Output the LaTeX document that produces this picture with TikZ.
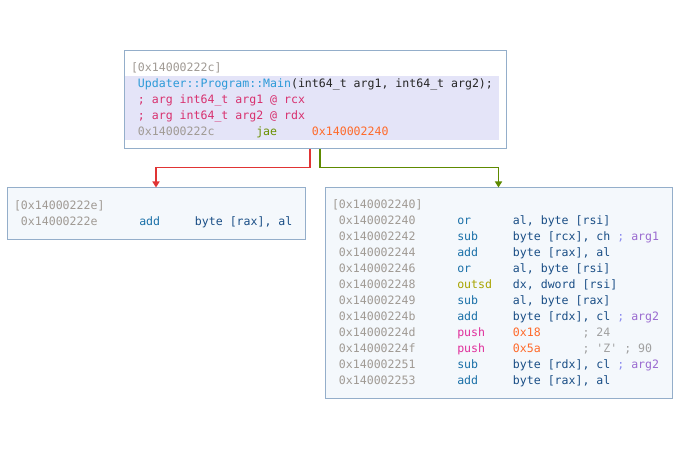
\PassOptionsToPackage{table}{xcolor}
\documentclass[tikz,border=0pt]{standalone}
\usepackage{fontspec}
\setmonofont{DejaVu Sans Mono}[WordSpace={1,0,0}]
\usetikzlibrary{arrows.meta}

\definecolor{boxline}{HTML}{94AECA}
\definecolor{boxfill}{HTML}{F4F8FC}
\definecolor{band}{HTML}{E4E4F8}
\definecolor{addr}{HTML}{A09A94}
\definecolor{fname}{HTML}{2C9AD8}
\definecolor{argc}{HTML}{D8306E}
\definecolor{jmpc}{HTML}{6A9000}
\definecolor{immc}{HTML}{FF6A2A}
\definecolor{opc}{HTML}{1A70A8}
\definecolor{regc}{HTML}{1A4E86}
\definecolor{outc}{HTML}{A8A400}
\definecolor{pushc}{HTML}{E0309C}
\definecolor{semic}{HTML}{8C8CF0}
\definecolor{cmtc}{HTML}{9A6AD0}
\definecolor{greyc}{HTML}{A0A0A0}
\definecolor{falsec}{HTML}{E03434}
\definecolor{truec}{HTML}{5E8A00}

\newlength{\cw}
\setlength{\cw}{6.96pt}
% address, mnemonic, operands in fixed columns
\newcommand{\ins}[4][opc]{\hspace{\cw}\makebox[17\cw][l]{\color{addr}#2}\makebox[8\cw][l]{\color{#1}#3}{\color{regc}#4}}
\newcommand{\cmt}[1]{{\color{semic};}\hspace{\cw}{\color{cmtc}#1}}
\newcommand{\asmfont}{\fontsize{11.56}{16}\selectfont\ttfamily
  \fontdimen2\font=6.96pt\fontdimen3\font=0pt\fontdimen4\font=0pt}

\begin{document}
\begin{tikzpicture}[x=1pt,y=-1pt,>={Triangle[length=6pt,width=7pt]},
  block/.style={draw=boxline,fill=boxfill,line width=1pt,inner xsep=7pt,inner ysep=0pt,
    font=\asmfont},
  flow/.style={->,line width=1.7pt}]
  \useasboundingbox (0,0) rectangle (680,462);
  \node[block,fill=white,text width=368pt,minimum height=98pt] (entry) at (315,100)
    {\noindent\spaceskip=0pt\begin{tabular}{@{}l@{}}
      {\color{addr}[0x14000222c]}\\
      \rowcolor{band}\hspace{\cw}{\color{fname}Updater::Program::Main}{\color{black!85}(int64\_t arg1, int64\_t arg2);}\\
      \rowcolor{band}\hspace{\cw}{\color{argc}; arg int64\_t arg1 @ rcx}\\
      \rowcolor{band}\hspace{\cw}{\color{argc}; arg int64\_t arg2 @ rdx}\\
      \rowcolor{band}\ins[jmpc]{0x14000222c}{jae}{\color{immc}0x140002240}
    \end{tabular}};
  \node[block,text width=284pt,minimum height=52pt] (fail) at (156,214)
    {\noindent\spaceskip=0pt\begin{tabular}{@{}l@{}}
      {\color{addr}[0x14000222e]}\\
      \ins{0x14000222e}{add}{byte [rax], al}
    \end{tabular}};
  \node[block,text width=333pt,minimum height=210pt] (jump) at (498.5,293)
    {\noindent\spaceskip=0pt\begin{tabular}{@{}l@{}}
      {\color{addr}[0x140002240]}\\
      \ins{0x140002240}{or}{al, byte [rsi]}\\
      \ins{0x140002242}{sub}{byte [rcx], ch \cmt{arg1}}\\
      \ins{0x140002244}{add}{byte [rax], al}\\
      \ins{0x140002246}{or}{al, byte [rsi]}\\
      \ins[outc]{0x140002248}{outsd}{dx, dword [rsi]}\\
      \ins{0x140002249}{sub}{al, byte [rax]}\\
      \ins{0x14000224b}{add}{byte [rdx], cl \cmt{arg2}}\\
      \ins[pushc]{0x14000224d}{push}{\makebox[10\cw][l]{\color{immc}0x18}{\color{greyc}; 24}}\\
      \ins[pushc]{0x14000224f}{push}{\makebox[10\cw][l]{\color{immc}0x5a}{\color{greyc}; 'Z' ; 90}}\\
      \ins{0x140002251}{sub}{byte [rdx], cl \cmt{arg2}}\\
      \ins{0x140002253}{add}{byte [rax], al}
    \end{tabular}};
  \draw[flow,falsec] ([xshift=-5pt]entry.south) -- ++(0,18) -| (fail.north);
  \draw[flow,truec] ([xshift=5pt]entry.south) -- ++(0,18) -| (jump.north);
\end{tikzpicture}
\end{document}
